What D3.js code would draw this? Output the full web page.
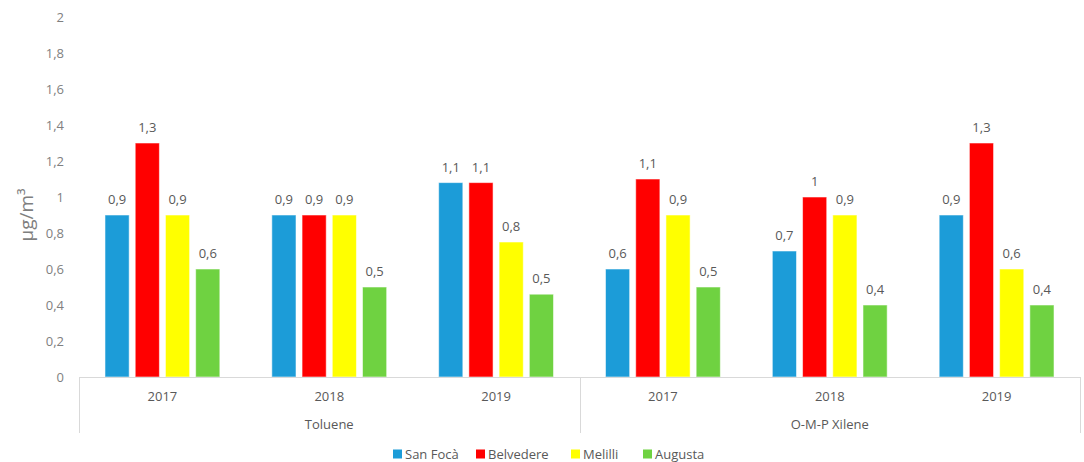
<!DOCTYPE html>
<html>
<head>
<meta charset="utf-8">
<script src="https://cdn.jsdelivr.net/npm/d3@7"></script>
<style>
  html, body { margin: 0; padding: 0; background: #fff; }
  svg { display: block; font-family: "Open Sans", sans-serif; }
</style>
</head>
<body>
<svg id="chart" width="1084" height="462"></svg>
<script>
// Pollutant groups and the years measured for each
const compounds = ["Toluene", "O-M-P Xilene"];
const years = ["2017", "2018", "2019"];
const stations = ["San Focà", "Belvedere", "Melilli", "Augusta"];
const stationColors = ["#1C9CD8", "#FF0000", "#FFFF00", "#6FD241"];

// Annual means (µg/m³), one array per station, ordered Toluene 2017-2019 then Xilene 2017-2019
const sanFoca   = [0.9, 0.9, 1.08, 0.6, 0.7, 0.9];
const belvedere = [1.3, 0.9, 1.08, 1.1, 1.0, 1.3];
const melilli   = [0.9, 0.9, 0.75, 0.9, 0.9, 0.6];
const augusta   = [0.6, 0.5, 0.46, 0.5, 0.4, 0.4];
const yTicks = [0, 0.2, 0.4, 0.6, 0.8, 1, 1.2, 1.4, 1.6, 1.8, 2];

const seriesValues = [sanFoca, belvedere, melilli, augusta];
const groups = [];
compounds.forEach(c => years.forEach(y => groups.push({ compound: c, year: y, key: c + "|" + y })));

const svg = d3.select("#chart");
const plotLeft = 79, plotRight = 1080, plotTop = 17, plotBottom = 377;

const x0 = d3.scaleBand().domain(groups.map(g => g.key)).range([plotLeft, plotRight]).padding(0);
const x1 = d3.scaleBand().domain(stations).range([0, x0.bandwidth()])
  .paddingInner(0.2).paddingOuter(0.86);
const y = d3.scaleLinear().domain([0, 2]).range([plotBottom, plotTop]);

const fmtNum = v => d3.format(".1~f")(v).replace(".", ",");

// Y tick labels
svg.append("g").selectAll("text").data(yTicks).join("text")
  .attr("x", 64).attr("y", d => y(d)).attr("dy", "0.35em")
  .attr("text-anchor", "end").attr("font-size", 13).attr("fill", "#7f7f7f")
  .text(d => fmtNum(d));

// Y axis title
svg.append("text")
  .attr("transform", `translate(33,${(plotTop + plotBottom) / 2 + 18}) rotate(-90)`)
  .attr("text-anchor", "middle").attr("font-size", 19).attr("fill", "#7f7f7f")
  .text("µg/m³");

// Bars
const rows = [];
groups.forEach((g, gi) => stations.forEach((s, si) => rows.push({ g, s, si, v: seriesValues[si][gi] })));

svg.append("g").selectAll("rect").data(rows).join("rect")
  .attr("x", d => x0(d.g.key) + x1(d.s))
  .attr("width", x1.bandwidth())
  .attr("y", d => y(d.v))
  .attr("height", d => y(0) - y(d.v))
  .attr("fill", d => stationColors[d.si])
  .attr("stroke", "rgba(255,255,255,0.55)").attr("stroke-width", 1);

// Value labels
svg.append("g").selectAll("text").data(rows).join("text")
  .attr("x", d => x0(d.g.key) + x1(d.s) + x1.bandwidth() / 2)
  .attr("y", d => y(d.v) - 11)
  .attr("text-anchor", "middle").attr("font-size", 13).attr("fill", "#595959")
  .text(d => fmtNum(d.v));

// Category axis: baseline and group separators
const axisColor = "#d9d9d9";
svg.append("line").attr("x1", plotLeft).attr("x2", plotRight).attr("y1", plotBottom + 0.5).attr("y2", plotBottom + 0.5)
  .attr("stroke", axisColor);
const sepX = [plotLeft, x0(groups[3].key), plotRight];
svg.append("g").selectAll("line").data(sepX).join("line")
  .attr("x1", d => Math.round(d) + 0.5).attr("x2", d => Math.round(d) + 0.5)
  .attr("y1", plotBottom).attr("y2", 433).attr("stroke", axisColor);

// Year labels
svg.append("g").selectAll("text").data(groups).join("text")
  .attr("x", d => x0(d.key) + x0.bandwidth() / 2).attr("y", 396).attr("dy", "0.35em")
  .attr("text-anchor", "middle").attr("font-size", 13).attr("fill", "#595959")
  .text(d => d.year);

// Compound labels
svg.append("g").selectAll("text").data(compounds).join("text")
  .attr("x", (d, i) => (x0(groups[i * 3].key) + x0(groups[i * 3 + 2].key) + x0.bandwidth()) / 2)
  .attr("y", 424).attr("dy", "0.35em")
  .attr("text-anchor", "middle").attr("font-size", 13).attr("fill", "#595959")
  .text(d => d);

// Legend
const legendX = [393, 476, 571, 643];
const lg = svg.append("g").selectAll("g").data(stations).join("g")
  .attr("transform", (d, i) => `translate(${legendX[i]},454)`);
lg.append("rect").attr("x", 0).attr("y", -4.5).attr("width", 9).attr("height", 9)
  .attr("fill", (d, i) => stationColors[i]);
lg.append("text").attr("x", 12).attr("y", 0).attr("dy", "0.35em")
  .attr("font-size", 13).attr("fill", "#595959").text(d => d);
</script>
</body>
</html>
